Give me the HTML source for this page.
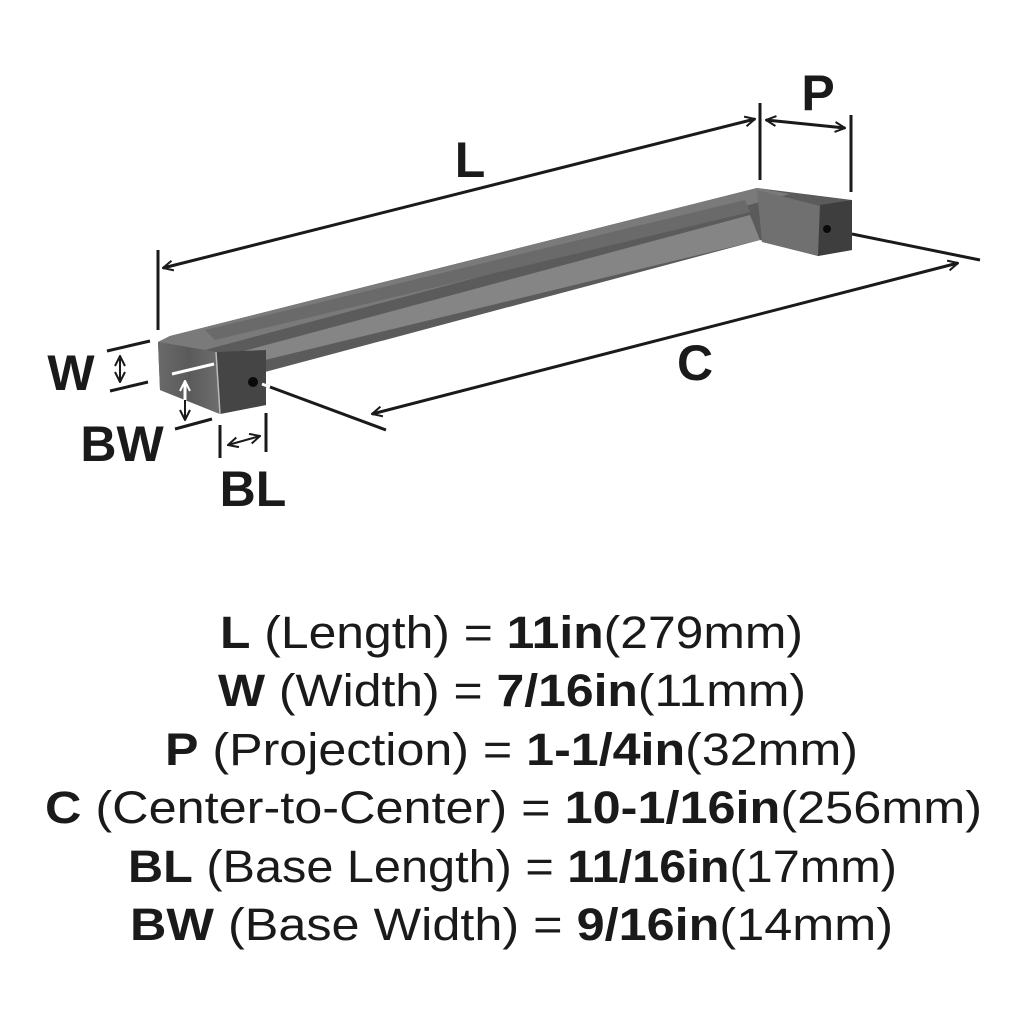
<!DOCTYPE html>
<html><head><style>
html,body{margin:0;padding:0;background:#fff;}
svg{display:block;}
text{font-family:"Liberation Sans",sans-serif;fill:#1a1a1a;}
</style></head><body>
<svg width="1024" height="1024" viewBox="0 0 1024 1024" xmlns="http://www.w3.org/2000/svg">
<defs>
<linearGradient id="g1" x1="0" y1="0" x2="1" y2="0">
<stop offset="0" stop-color="#6a6a6a"/><stop offset="0.5" stop-color="#5a5a5a"/><stop offset="1" stop-color="#6e6e6e"/>
</linearGradient>
<marker id="a" viewBox="0 0 12 12" refX="11" refY="6" markerWidth="12" markerHeight="12" orient="auto-start-reverse" markerUnits="userSpaceOnUse">
<path d="M1,1 L11,6 L1,11" fill="none" stroke="#1a1a1a" stroke-width="2"/>
</marker>
<marker id="aw" viewBox="0 0 12 12" refX="11" refY="6" markerWidth="12" markerHeight="12" orient="auto-start-reverse" markerUnits="userSpaceOnUse">
<path d="M1,1 L11,6 L1,11" fill="none" stroke="#fff" stroke-width="2"/>
</marker>
</defs>
<polygon points="158,342 170,336 757,188 852,200 852,250 818,256 760,240 265,372 266,405 220,414 160,390" fill="#5b5b5b"/>
<polygon points="170,336 757,188 790,194 205,350 158,342" fill="#7a7a7a"/>
<polygon points="205,330 745,200 750,212 215,340" fill="#6a6a6a"/>
<polygon points="240,352 750,215 760,240 265,360" fill="#858585"/>
<polygon points="757,190 820,206 818,256 762,242" fill="#707070"/>
<polygon points="820,205 852,200 852,250 818,256" fill="#3e3e3e"/>
<polygon points="158,342 216,352 220,414 160,390" fill="url(#g1)"/>
<polygon points="216,352 266,350 266,405 220,414" fill="#454545"/>
<line x1="216" y1="352" x2="220" y2="414" stroke="#bbb" stroke-width="1.5"/>
<circle cx="253" cy="382" r="5" fill="#0a0a0a"/>
<circle cx="827" cy="229" r="4" fill="#0a0a0a"/>
<g stroke="#1a1a1a" stroke-width="3" fill="none">
<line x1="158" y1="250" x2="158" y2="330"/>
<line x1="760" y1="103" x2="760" y2="180"/>
<line x1="851" y1="115" x2="851" y2="192"/>
<line x1="163" y1="268" x2="755" y2="119" marker-start="url(#a)" marker-end="url(#a)"/>
<line x1="766" y1="120" x2="845" y2="128" marker-start="url(#a)" marker-end="url(#a)"/>
<line x1="262" y1="384" x2="386" y2="430"/>
<line x1="852" y1="234" x2="980" y2="260"/>
<line x1="372" y1="414" x2="958" y2="263" marker-start="url(#a)" marker-end="url(#a)"/>
<line x1="107" y1="351" x2="150" y2="341"/>
<line x1="110" y1="391" x2="148" y2="382"/>
<line x1="120" y1="356" x2="120" y2="382" stroke-width="2" marker-start="url(#a)" marker-end="url(#a)"/>
<line x1="185" y1="400" x2="185" y2="420" stroke-width="2" marker-end="url(#a)"/>
<line x1="175" y1="429" x2="212" y2="419"/>
<line x1="220" y1="425" x2="220" y2="458"/>
<line x1="266" y1="413" x2="266" y2="452"/>
<line x1="228" y1="445" x2="260" y2="436" stroke-width="2" marker-start="url(#a)" marker-end="url(#a)"/>
</g>
<line x1="262" y1="384" x2="270" y2="387" stroke="#fff" stroke-width="3"/>
<line x1="172" y1="374" x2="214" y2="364" stroke="#fff" stroke-width="3"/>
<line x1="185" y1="400" x2="185" y2="381" stroke="#fff" stroke-width="3" marker-end="url(#aw)"/>
<g font-size="50" font-weight="bold">
<text x="470" y="177" text-anchor="middle">L</text>
<text x="818" y="110" text-anchor="middle">P</text>
<text x="695" y="380" text-anchor="middle">C</text>
<text x="71" y="390" text-anchor="middle">W</text>
<text x="122" y="461" text-anchor="middle">BW</text>
<text x="253" y="506" text-anchor="middle">BL</text>
</g>
<g font-size="45" lengthAdjust="spacingAndGlyphs">
<text x="220" y="648" textLength="583" lengthAdjust="spacingAndGlyphs"><tspan font-weight="bold">L</tspan> (Length) = <tspan font-weight="bold">11in</tspan>(279mm)</text>
<text x="218" y="706" textLength="588" lengthAdjust="spacingAndGlyphs"><tspan font-weight="bold">W</tspan> (Width) = <tspan font-weight="bold">7/16in</tspan>(11mm)</text>
<text x="165" y="765" textLength="693" lengthAdjust="spacingAndGlyphs"><tspan font-weight="bold">P</tspan> (Projection) = <tspan font-weight="bold">1-1/4in</tspan>(32mm)</text>
<text x="45" y="823" textLength="937" lengthAdjust="spacingAndGlyphs"><tspan font-weight="bold">C</tspan> (Center-to-Center) = <tspan font-weight="bold">10-1/16in</tspan>(256mm)</text>
<text x="128" y="882" textLength="769" lengthAdjust="spacingAndGlyphs"><tspan font-weight="bold">BL</tspan> (Base Length) = <tspan font-weight="bold">11/16in</tspan>(17mm)</text>
<text x="130" y="940" textLength="763" lengthAdjust="spacingAndGlyphs"><tspan font-weight="bold">BW</tspan> (Base Width) = <tspan font-weight="bold">9/16in</tspan>(14mm)</text>
</g>
</svg>
</body></html>
